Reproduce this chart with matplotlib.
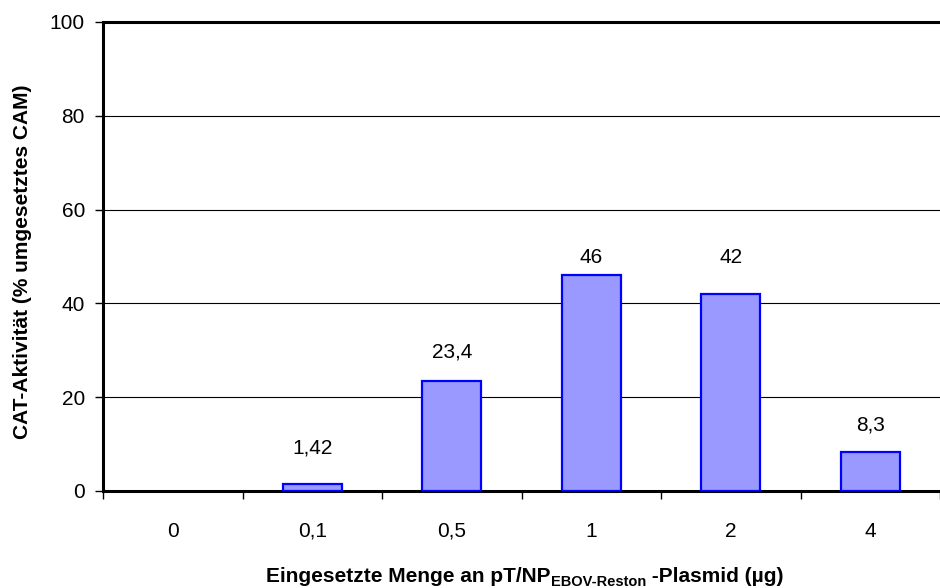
import matplotlib
matplotlib.use("Agg")
import matplotlib.pyplot as plt
import numpy as np

plt.rcParams['font.family'] = ['Liberation Sans', 'DejaVu Sans']

# data
categories = ['0', '0,1', '0,5', '1', '2', '4']
values = [0, 1.42, 23.4, 46, 42, 8.3]
value_labels = ['', '1,42', '23,4', '46', '42', '8,3']
# vertical position of the value labels (data units, as in the original)
label_y = [0, 9.2, 29.7, 49.8, 49.8, 14.1]

fig = plt.figure(figsize=(9.4, 5.88), dpi=100)
W, H = 940, 588
ax = fig.add_axes([103 / W, 1 - 491 / H, (940 - 103) / W, (491 - 22) / H])

x = np.arange(len(categories))
vals = np.array(values)
edges = ['#0000FF' if v > 0 else 'none' for v in values]
ax.bar(x, vals, width=0.42, color='#9999FF',
       edgecolor=edges, linewidth=1.6, zorder=3)

for xi, lab, ly in zip(x, value_labels, label_y):
    if lab:
        ax.text(xi, ly, lab, ha='center', va='center', fontsize=15)

ax.set_ylim(0, 100)
ax.set_xlim(-0.5, -0.5 + 837 / 141.3)
ax.set_yticks([0, 20, 40, 60, 80, 100])
ax.yaxis.grid(True, color='black', linewidth=0.8, zorder=0)
ax.set_axisbelow(True)

# category ticks between groups, labels centred
ax.set_xticks(np.arange(len(categories) + 1) - 0.5)
ax.set_xticklabels([])
ax.set_xticks(x, minor=True)
ax.set_xticklabels(categories, minor=True)
ax.tick_params(axis='x', which='minor', length=0, pad=22, labelsize=15)
ax.tick_params(axis='x', which='major', length=6, width=1, direction='out')
ax.tick_params(axis='y', length=6, width=1, direction='out', pad=7, labelsize=15)

for s in ['left', 'bottom', 'top']:
    ax.spines[s].set_linewidth(2.2)
ax.spines['right'].set_visible(False)

fig.text(23 / W, 1 - 262 / H, 'CAT-Aktivität (% umgesetztes CAM)', rotation=90,
         ha='center', va='center', fontsize=15, fontweight='bold')

# x axis label with subscript, pieced together
fig.canvas.draw()
r = fig.canvas.get_renderer()
y0 = 1 - 582 / H
t1 = fig.text(0, y0, 'Eingesetzte Menge an pT/NP', fontsize=15, fontweight='bold', va='baseline')
t2 = fig.text(0, y0 - 4 / H, 'EBOV-Reston', fontsize=10.5, fontweight='bold', va='baseline')
t3 = fig.text(0, y0, ' -Plasmid (µg)', fontsize=15, fontweight='bold', va='baseline')
w1 = t1.get_window_extent(r).width
w2 = t2.get_window_extent(r).width
w3 = t3.get_window_extent(r).width
start = 525 - (w1 + w2 + w3) / 2
t1.set_x(start / W)
t2.set_x((start + w1) / W)
t3.set_x((start + w1 + w2) / W)

fig.savefig('out.png', dpi=100)
